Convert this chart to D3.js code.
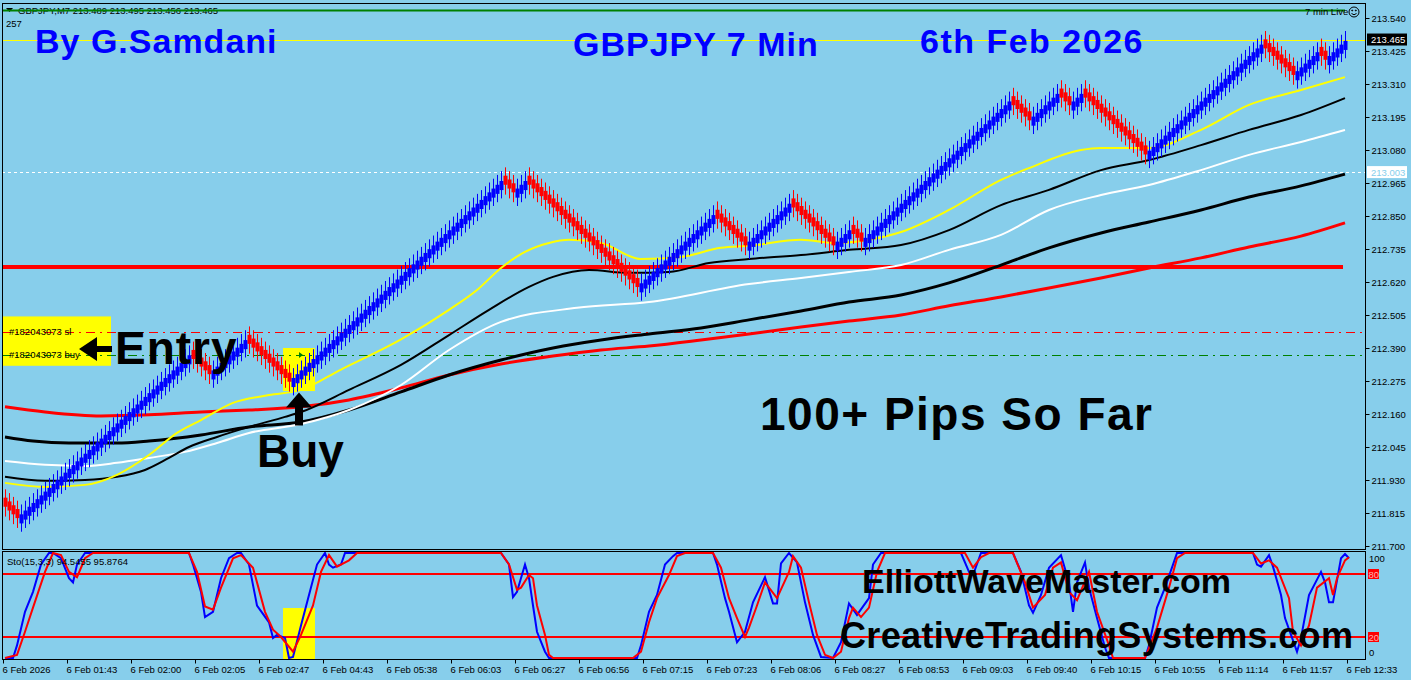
<!DOCTYPE html>
<html lang="en">
<head>
<meta charset="UTF-8">
<title>GBPJPY 7 Min</title>
<script src="https://d3js.org/d3.v7.min.js"></script>
<style>
    body { margin: 0; background: #87ceeb; }
    svg { display: block; }
    text { font-family: "Liberation Sans", Arial, sans-serif; }
    .big { font-weight: bold; }
</style>
</head>
<body>
<svg width="1411" height="680"></svg>
<script>
    // renko bricks: [direction, number of bricks]
    var renkoRuns = [
        [-1, 4], [1, 43], [-1, 5], [1, 9], [-1, 11], [1, 53], [-1, 3], [1, 3],
        [-1, 28], [1, 19], [-1, 8], [1, 11], [-1, 11], [1, 4], [-1, 3], [1, 37],
        [-1, 5], [1, 7], [-1, 3], [1, 3], [-1, 16], [1, 29], [-1, 8], [1, 6],
        [-1, 2], [1, 5]
    ];
    var brickSize = 0.0132;
    var firstOpen = 211.850;

    // moving averages: [bar, price]
    var maYellow = [[0,211.920],[10,211.906],[20,211.913],[28,211.948],[36,212.017],[43,212.094],[49,212.139],[57,212.199],[66,212.226],[74,212.244],[84,212.315],[99,212.420],[111,212.523],[118,212.592],[124,212.669],[130,212.725],[136,212.756],[141,212.767],[149,212.756],[159,212.700],[169,212.707],[179,212.739],[186,212.746],[199,212.767],[208,212.756],[216,212.767],[224,212.794],[236,212.871],[249,212.976],[256,213.017],[269,213.080],[274,213.087],[286,213.087],[299,213.150],[311,213.237],[324,213.289],[335,213.334]];
    var maBlackFast = [[0,211.941],[10,211.927],[20,211.930],[28,211.941],[35,211.965],[41,212.007],[46,212.045],[53,212.080],[61,212.115],[70,212.150],[74,212.167],[86,212.244],[99,212.331],[111,212.435],[121,212.523],[131,212.603],[137,212.638],[146,212.662],[156,212.652],[166,212.655],[176,212.686],[186,212.700],[199,212.714],[211,212.732],[224,212.749],[236,212.801],[249,212.888],[261,212.941],[274,213.010],[286,213.045],[299,213.097],[311,213.150],[324,213.202],[335,213.261]];
    var maWhite = [[0,211.996],[10,211.983],[20,211.979],[28,211.990],[36,212.007],[45,212.028],[53,212.059],[61,212.094],[74,212.125],[86,212.174],[99,212.261],[111,212.383],[124,212.481],[143,212.530],[161,212.550],[186,212.613],[199,212.634],[211,212.655],[224,212.679],[236,212.732],[249,212.784],[261,212.871],[274,212.923],[286,212.958],[299,213.010],[311,213.063],[324,213.108],[335,213.150]];
    var maBlackSlow = [[0,212.080],[7,212.066],[16,212.059],[28,212.059],[36,212.066],[49,212.087],[61,212.115],[74,212.132],[86,212.174],[99,212.237],[111,212.296],[124,212.348],[137,212.390],[149,212.418],[161,212.439],[174,212.460],[186,212.488],[199,212.519],[211,212.550],[224,212.575],[236,212.617],[249,212.679],[261,212.739],[274,212.791],[286,212.829],[299,212.871],[311,212.916],[324,212.955],[335,212.996]];
    var maRed = [[0,212.185],[10,212.167],[24,212.153],[36,212.157],[49,212.167],[61,212.174],[74,212.185],[86,212.209],[99,212.251],[111,212.296],[124,212.334],[137,212.362],[149,212.383],[161,212.397],[174,212.418],[186,212.439],[199,212.463],[211,212.484],[224,212.505],[236,212.537],[249,212.568],[261,212.599],[274,212.634],[286,212.669],[299,212.704],[311,212.742],[324,212.780],[335,212.826]];

    // stochastic (15,3,3): [bar, value]
    var stoK = [[0,0],[2,0],[3,12],[5,44],[7,63],[9,89],[11,100],[12,100],[14,95],[16,76],[17,72],[18,89],[20,100],[46,100],[47,89],[49,63],[50,39],[52,44],[54,76],[56,95],[58,100],[59,100],[61,89],[63,50],[66,34],[67,19],[68,22],[70,19],[71,0],[72,1],[74,31],[76,60],[78,89],[80,100],[81,89],[82,86],[84,89],[85,100],[124,100],[126,89],[127,58],[128,63],[130,89],[131,76],[132,50],[133,25],[135,6],[136,0],[158,0],[159,12],[161,44],[163,60],[165,89],[167,97],[168,100],[177,100],[178,89],[180,57],[181,44],[183,15],[185,25],[187,53],[190,77],[192,52],[193,52],[194,90],[196,100],[198,91],[200,53],[202,22],[204,1],[207,0],[209,15],[211,52],[213,41],[216,57],[217,89],[219,100],[239,100],[241,82],[242,79],[244,100],[252,100],[254,82],[256,50],[257,43],[259,60],[261,86],[264,98],[266,72],[267,44],[268,72],[270,91],[271,67],[273,38],[275,10],[276,0],[285,0],[286,12],[288,48],[290,67],[292,89],[293,100],[312,100],[313,89],[314,87],[316,98],[317,87],[319,60],[320,38],[323,6],[324,19],[326,60],[329,82],[330,72],[331,53],[332,53],[334,95],[335,99],[336,95]];
    var stoD = [[0,0],[3,3],[5,25],[7,48],[10,82],[12,100],[14,98],[16,82],[18,77],[20,95],[22,100],[46,100],[48,82],[50,49],[52,46],[54,67],[57,95],[59,98],[62,86],[65,44],[67,27],[69,20],[72,6],[74,22],[77,50],[79,82],[81,98],[83,87],[86,93],[88,100],[124,100],[126,89],[128,65],[129,67],[131,79],[132,76],[133,50],[135,22],[136,3],[137,0],[157,0],[159,6],[161,34],[163,57],[166,79],[168,97],[170,100],[177,100],[179,86],[181,57],[183,38],[185,20],[186,29],[188,50],[190,72],[193,57],[196,82],[197,97],[199,86],[201,53],[203,22],[205,3],[207,0],[209,6],[211,38],[212,48],[214,39],[216,48],[218,82],[220,100],[240,100],[242,86],[244,96],[246,100],[252,100],[255,72],[257,48],[260,60],[262,86],[264,91],[266,63],[268,55],[271,82],[273,44],[276,12],[277,0],[285,0],[288,29],[291,67],[293,95],[295,100],[312,100],[314,90],[316,93],[318,86],[321,57],[322,25],[324,12],[326,31],[328,67],[331,76],[332,60],[333,76],[335,93],[336,96]];

    // levels
    var resistance = 212.672;
    var slPrice = 212.446;
    var buyPrice = 212.366;
    var dashPrice = 213.003;
    var askPrice = 213.465;
    var stoLevels = [80, 20];

    // axes labels
    var priceTicks = [213.540, 213.425, 213.310, 213.195, 213.080, 212.965, 212.850, 212.735, 212.620, 212.505, 212.390, 212.275, 212.160, 212.045, 211.930, 211.815, 211.700];
    var timeLabels = ["6 Feb 2026", "6 Feb 01:43", "6 Feb 02:00", "6 Feb 02:05", "6 Feb 02:47", "6 Feb 04:43", "6 Feb 05:38", "6 Feb 06:03", "6 Feb 06:27", "6 Feb 06:56", "6 Feb 07:15", "6 Feb 07:23", "6 Feb 08:06", "6 Feb 08:27", "6 Feb 08:53", "6 Feb 09:03", "6 Feb 09:40", "6 Feb 10:15", "6 Feb 10:55", "6 Feb 11:14", "6 Feb 11:57", "6 Feb 12:33"];
    var timeTickBars = timeLabels.map(function(d, i) { return i * 16; });

    var svg = d3.select('svg');
    var left = 2, right = 1365;
    var mainTop = 3, mainBottom = 549;
    var subTop = 551, subBottom = 659;
    var small = 9.5;

    var x = d3.scaleLinear().domain([0, 340]).range([3, 1363]);
    var y = d3.scaleLinear().domain([211.700, 213.540]).range([546, 18]);
    var ys = d3.scaleLinear().domain([0, 100]).range([658, 553]);
    function cx(i) { return x(i) + 2; }

    // build the bricks from the runs
    var bars = [];
    var price = firstOpen;
    renkoRuns.forEach(function(r) {
        for (var k = 0; k < r[1]; k++) {
            price += r[0] * brickSize;
            bars.push({ i: bars.length, dir: r[0], close: price });
        }
    });
    var bodyBricks = 2.4;

    svg.append('rect').attr('width', 1411).attr('height', 680).attr('fill', '#87ceeb');

    var main = svg.append('g');
    svg.append('clipPath').attr('id', 'cm').append('rect')
        .attr('x', left).attr('y', mainTop).attr('width', right - left).attr('height', mainBottom - mainTop);
    main.attr('clip-path', 'url(#cm)');

    // yellow boxes behind everything
    main.append('rect').attr('x', x(70)).attr('y', y(212.390)).attr('width', x(78) - x(70)).attr('height', y(212.240) - y(212.390)).attr('fill', '#ffff00');
    main.append('rect').attr('x', 3).attr('y', y(212.500)).attr('width', 108).attr('height', y(212.328) - y(212.500)).attr('fill', '#ffff00');

    // horizontal levels
    function hline(p, color, w, dash) {
        var yy = Math.round(y(p)) + 0.5;
        main.append('line').attr('x1', left).attr('x2', right).attr('y1', yy).attr('y2', yy)
            .attr('stroke', color).attr('stroke-width', w).attr('stroke-dasharray', dash || null);
    }
    hline(askPrice, '#ffff00', 1);
    hline(dashPrice, '#ffffff', 1, '3,3');
    hline(slPrice, '#ff0000', 1, '9,5,2,5');
    hline(buyPrice, '#008000', 1, '9,5,2,5');
    main.append('line').attr('x1', 3).attr('x2', 1343).attr('y1', y(resistance)).attr('y2', y(resistance))
        .attr('stroke', '#ff0000').attr('stroke-width', 4);

    // moving averages
    var maLine = d3.line().x(function(d) { return cx(d[0]); }).y(function(d) { return y(d[1]); }).curve(d3.curveMonotoneX);
    [[maRed, '#ff0000', 3], [maBlackSlow, '#000000', 3], [maWhite, '#ffffff', 2], [maBlackFast, '#000000', 2], [maYellow, '#ffff00', 2]]
        .forEach(function(m) {
            main.append('path').attr('d', maLine(m[0])).attr('fill', 'none').attr('stroke', m[1]).attr('stroke-width', m[2]);
        });

    // renko bricks
    var brick = main.append('g').selectAll('g').data(bars).join('g');
    brick.append('line')
        .attr('x1', function(d) { return x(d.i) + 2.5; })
        .attr('x2', function(d) { return x(d.i) + 2.5; })
        .attr('y1', function(d) { return d.dir > 0 ? y(d.close + 2.6 * brickSize) : y(d.close + 4.6 * brickSize); })
        .attr('y2', function(d) { return d.dir > 0 ? y(d.close - 4.6 * brickSize) : y(d.close - 2.6 * brickSize); })
        .attr('stroke', function(d) { return d.dir > 0 ? '#0000ff' : '#ff0000'; })
        .attr('stroke-width', 1);
    brick.append('rect')
        .attr('x', function(d) { return x(d.i) + 0.5; })
        .attr('width', 4)
        .attr('y', function(d) { return d.dir > 0 ? y(d.close) : y(d.close + bodyBricks * brickSize); })
        .attr('height', function(d) { return y(0) - y(bodyBricks * brickSize); })
        .attr('fill', function(d) { return d.dir > 0 ? '#0000ff' : '#ff0000'; });

    // order labels
    main.append('text').attr('x', 9).attr('y', y(slPrice) + 3).attr('font-size', small).text('#182043073 sl');
    main.append('text').attr('x', 9).attr('y', y(buyPrice) + 3).attr('font-size', small).text('#182043073 buy');
    main.append('path').attr('d', 'M' + (cx(74) - 2) + ',' + (y(buyPrice) - 3) + 'l4,3l-4,3z').attr('fill', '#008000');

    // arrows
    var ax = 79, ay = y(buyPrice) - 6;
    main.append('path').attr('fill', '#000')
        .attr('d', 'M' + ax + ',' + ay + 'l18,-12v9h15v6h-15v9z');
    var bx = cx(74) - 2, by = y(212.235);
    main.append('path').attr('fill', '#000')
        .attr('d', 'M' + bx + ',' + by + 'l13,15h-9v18h-8v-18h-9z');

    // header texts
    svg.append('path').attr('d', 'M6,8h7l-3.5,4z').attr('fill', '#000');
    svg.append('text').attr('x', 18).attr('y', 14).attr('font-size', small).text('GBPJPY,M7  213.489 213.495 213.456 213.465');
    svg.append('text').attr('x', 6).attr('y', 27).attr('font-size', small).text('257');
    svg.append('line').attr('x1', 3).attr('x2', 1345).attr('y1', 10.5).attr('y2', 10.5).attr('stroke', '#008000').attr('stroke-width', 2);
    svg.append('text').attr('x', 1305).attr('y', 15).attr('font-size', small).text('7 min Live');
    var sm = svg.append('g').attr('transform', 'translate(1354,12)').attr('fill', 'none').attr('stroke', '#000');
    sm.append('circle').attr('r', 5);
    sm.append('path').attr('d', 'M-2.5,1.5Q0,4 2.5,1.5');
    sm.append('circle').attr('cx', -1.8).attr('cy', -1.5).attr('r', 0.5).attr('fill', '#000');
    sm.append('circle').attr('cx', 1.8).attr('cy', -1.5).attr('r', 0.5).attr('fill', '#000');

    function big(txt, tx, ty, size, color, ls) {
        svg.append('text').attr('class', 'big').attr('x', tx).attr('y', ty)
            .attr('font-size', size).attr('fill', color).attr('letter-spacing', ls || 0).text(txt);
    }
    big('By G.Samdani', 35, 53, 34, '#0000ff', 1);
    big('GBPJPY 7 Min', 573, 56, 34, '#0000ff', 1);
    big('6th Feb 2026', 920, 53, 34, '#0000ff', 1.5);
    big('Entry', 115, 364, 46, '#000', 1);
    big('Buy', 257, 467, 46, '#000', 0);
    big('100+ Pips So Far', 760, 430, 46, '#000', 1.5);

    // stochastic panel
    var sub = svg.append('g');
    sub.append('rect').attr('x', x(70)).attr('y', 608).attr('width', x(78) - x(70)).attr('height', subBottom - 608).attr('fill', '#ffff00');
    stoLevels.forEach(function(l) {
        sub.append('line').attr('x1', left).attr('x2', right).attr('y1', ys(l)).attr('y2', ys(l))
            .attr('stroke', '#ff0000').attr('stroke-width', 2);
    });
    var stoLine = d3.line().x(function(d) { return cx(d[0]); }).y(function(d) { return ys(d[1]); });
    sub.append('path').attr('d', stoLine(stoK)).attr('fill', 'none').attr('stroke', '#0000ff').attr('stroke-width', 2);
    sub.append('path').attr('d', stoLine(stoD)).attr('fill', 'none').attr('stroke', '#ff0000').attr('stroke-width', 2);
    svg.append('text').attr('x', 7).attr('y', 565).attr('font-size', small).text('Sto(15,3,3) 94.5455 95.8764');

    big('ElliottWaveMaster.com', 862, 593, 34, '#000', 0);
    big('CreativeTradingSystems.com', 840, 648, 36, '#000', 0.35);

    // frames
    svg.append('rect').attr('x', left + 0.5).attr('y', mainTop + 0.5).attr('width', right - left).attr('height', mainBottom - mainTop)
        .attr('fill', 'none').attr('stroke', '#000');
    svg.append('rect').attr('x', left + 0.5).attr('y', subTop + 0.5).attr('width', right - left).attr('height', subBottom - subTop)
        .attr('fill', 'none').attr('stroke', '#000');

    // price axis
    var yAxis = svg.append('g').attr('transform', 'translate(' + (right + 0.5) + ',0)')
        .call(d3.axisRight(y).tickValues(priceTicks).tickSize(4).tickPadding(2).tickFormat(d3.format('.3f')));
    yAxis.select('.domain').remove();
    yAxis.selectAll('text').attr('font-size', small).attr('font-family', 'Liberation Sans').attr('fill', '#000');

    // price tags
    svg.append('rect').attr('x', 1367).attr('y', y(askPrice) - 6).attr('width', 40).attr('height', 12).attr('fill', '#000');
    svg.append('text').attr('x', 1371).attr('y', y(askPrice) + 3.5).attr('font-size', small).attr('fill', '#fff').text('213.465');
    svg.append('rect').attr('x', 1367).attr('y', y(dashPrice) - 6).attr('width', 40).attr('height', 12).attr('fill', '#fff');
    svg.append('text').attr('x', 1371).attr('y', y(dashPrice) + 3.5).attr('font-size', small).attr('fill', '#87ceeb').text('213.003');

    // stochastic scale
    svg.append('text').attr('x', 1369).attr('y', 562).attr('font-size', small).text('100');
    svg.append('text').attr('x', 1369).attr('y', 656).attr('font-size', small).text('0');
    stoLevels.forEach(function(l) {
        svg.append('rect').attr('x', 1368).attr('y', ys(l) - 5).attr('width', 11).attr('height', 10).attr('fill', '#ff0000');
        svg.append('text').attr('x', 1368.5).attr('y', ys(l) + 3.5).attr('font-size', small).attr('fill', '#ffb0b0').text(l);
    });

    // time axis
    var xAxis = svg.append('g').attr('transform', 'translate(0,' + (subBottom + 0.5) + ')')
        .call(d3.axisBottom(x).tickValues(timeTickBars).tickSize(4).tickPadding(3)
            .tickFormat(function(d, i) { return timeLabels[i]; }));
    xAxis.select('.domain').remove();
    xAxis.selectAll('text').attr('font-size', small).attr('font-family', 'Liberation Sans').attr('fill', '#000')
        .attr('text-anchor', 'start').attr('x', -1);
</script>
</body>
</html>
